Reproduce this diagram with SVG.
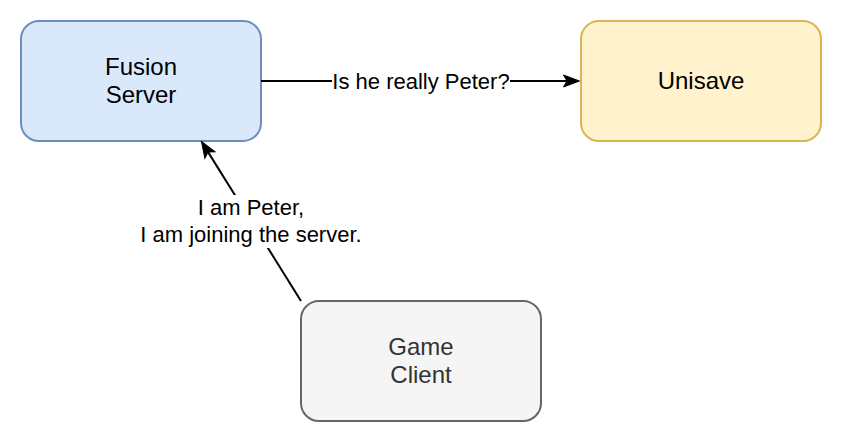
<svg xmlns="http://www.w3.org/2000/svg" width="842" height="442" viewBox="0 0 842 442">
<style>
.node{stroke-width:2}
.nt{font-family:"Liberation Sans",Arial,sans-serif;font-size:24px;text-anchor:middle}
.et{font-family:"Liberation Sans",Arial,sans-serif;font-size:22px;text-anchor:middle;fill:#000}
.edge{stroke:#000;stroke-width:2;fill:none}
</style>
<defs>
<marker id="arr" markerUnits="userSpaceOnUse" orient="auto" refX="0" refY="0" markerWidth="40" markerHeight="40" overflow="visible">
<path d="M -3.5,-6 L 12.5,0 L -3.5,6 L 0,0 Z" fill="#000" stroke="#000" stroke-width="1" stroke-linejoin="miter"/>
</marker>
</defs>
<rect width="842" height="442" fill="#fff"/>
<g id="fusion-server">
<rect class="node" x="21" y="21" width="240" height="120" rx="18" ry="18" fill="#dae8fc" stroke="#6c8ebf"/>
<text class="nt" fill="#000"><tspan x="141" y="74.5">Fusion</tspan><tspan x="141" y="103.3">Server</tspan></text>
</g>
<g id="unisave">
<rect class="node" x="581" y="21" width="240" height="120" rx="18" ry="18" fill="#fff2cc" stroke="#d6b656"/>
<text class="nt" fill="#000" x="701" y="89">Unisave</text>
</g>
<g id="game-client">
<rect class="node" x="301" y="301" width="240" height="120" rx="18" ry="18" fill="#f5f5f5" stroke="#666666"/>
<text class="nt" fill="#333333"><tspan x="421" y="354.5">Game</tspan><tspan x="421" y="383.3">Client</tspan></text>
</g>
<g id="connectors">
<path class="edge" d="M 261,81 L 567,81" marker-end="url(#arr)"/>
<rect x="332" y="69" width="178" height="24" fill="#fff"/>
<text class="et" x="421" y="88.6">Is he really Peter?</text>
<path class="edge" d="M 301,301 L 208.1,152.1" marker-end="url(#arr)"/>
<rect x="140" y="195" width="222" height="53" fill="#fff"/>
<text class="et"><tspan x="251" y="215.4">I am Peter,</tspan><tspan x="251" y="241.8">I am joining the server.</tspan></text>
</g>
</svg>
